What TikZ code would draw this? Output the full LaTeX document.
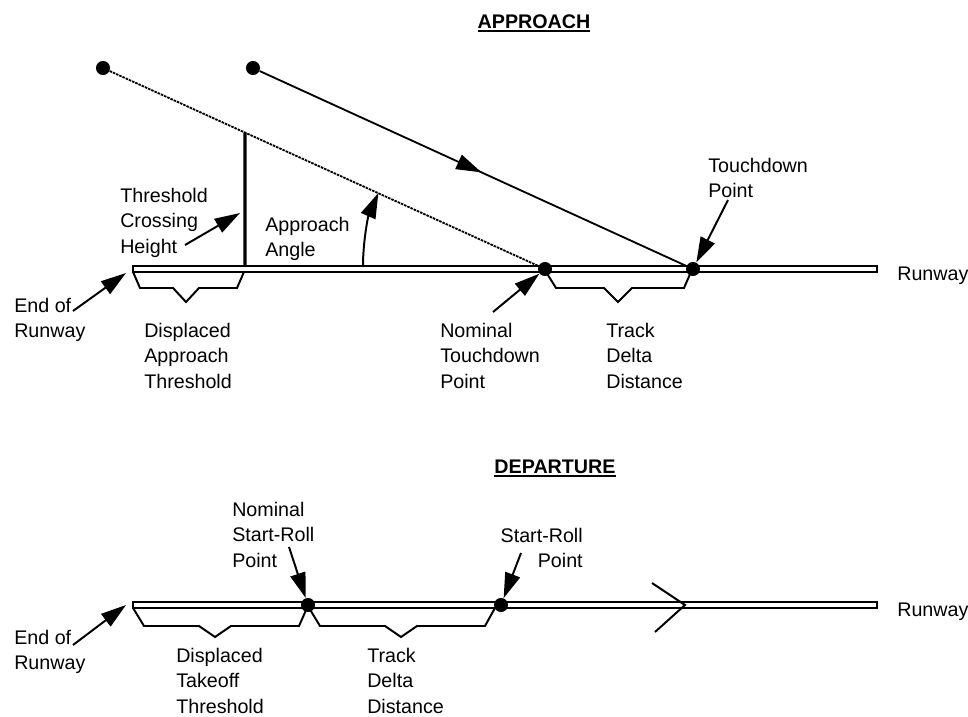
\documentclass[tikz,border=0pt]{standalone}
\usepackage{fontspec}
\setmainfont{Liberation Sans}
\usetikzlibrary{arrows.meta}
\usetikzlibrary{calc}
\usetikzlibrary{decorations.markings}

\begin{document}
\begin{tikzpicture}[x=0.025cm, y=-0.025cm,
    every node/.style={inner sep=0pt, font=\fontsize{14}{18}\selectfont},
    txt/.style={align=left, anchor=north west},
    ptdot/.style={circle, fill=black, inner sep=0pt, minimum size=10pt},
    runway/.style={line width=1.4pt, fill=white},
    pointer/.style={line width=1.4pt, -{Triangle[length=18pt, width=11pt]}},
    bracketline/.style={line width=1.4pt, line join=miter},
    glide/.style={line width=1.3pt},
    nominal glide/.style={line width=1.3pt, dash pattern=on 1.8pt off 0.7pt}]
        \newcommand{\figrwxstart}{133}
        \newcommand{\figrwxend}{877}
        \newcommand{\figrwhalf}{2.9}
        \newcommand{\figrwaycent}{269}
        \newcommand{\figrwdycent}{605}
        \newcommand{\figrwaybot}{\figrwaycent+\figrwhalf}
        \newcommand{\figrwdybot}{\figrwdycent+\figrwhalf}
        \newcommand{\figheading}[1]{\setbox0=\hbox{\bfseries #1}\rlap{\rule[-3pt]{\wd0}{1.3pt}}\box0}
        \useasboundingbox (0,0) rectangle (968,717);
        % approach
        \node[anchor=base] (apphead) at (534,28) {\figheading{APPROACH}};
        \draw[runway] (\figrwxstart,\figrwaycent-\figrwhalf) rectangle (\figrwxend,\figrwaycent+\figrwhalf);
        \node[ptdot] (glideastart) at (103,68) {};
        \node[ptdot] (glidebstart) at (253,68) {};
        \node[ptdot] (nomtd) at (545,\figrwaycent) {};
        \node[ptdot] (td) at (693,\figrwaycent) {};
        \draw[nominal glide] (glideastart) -- (nomtd);
        \draw[glide, postaction={decorate}, decoration={markings, mark=at position 0.52 with {\arrow{Triangle[length=18pt, width=11pt]}}}] (glidebstart) -- (td);
        \coordinate (thtop) at ($(glideastart.center)!0.3213!(nomtd.center)$);
        \coordinate (thbase) at (245,\figrwaycent-\figrwhalf);
        \draw[line width=2.3pt] (thtop) -- (thbase);
        \coordinate (anglefoot) at (363,\figrwaycent-\figrwhalf);
        \draw[pointer] (anglefoot) arc[start angle=180, end angle=203.7, radius=182];
        \node[txt] (thcross) at (120,188) {Threshold\\Crossing\\Height};
        \node[txt] (appangle) at (265,217) {Approach\\Angle};
        \node[txt] (endrwa) at (14,298) {End of\\Runway};
        \node[txt] (dispappr) at (144,323) {Displaced\\Approach\\Threshold};
        \node[txt] (nomtdlabel) at (440,323) {Nominal\\Touchdown\\Point};
        \node[txt] (trackalabel) at (606,323) {Track\\Delta\\Distance};
        \node[txt] (tdlabel) at (708,158) {Touchdown\\Point};
        \node[anchor=base west] (rwalabel) at (897,280) {Runway};
        \coordinate (thcrosstail) at (185,245);
        \coordinate (thcrosstip) at (240,213);
        \coordinate (endrwatail) at (73,311);
        \coordinate (endrwatip) at (126,273);
        \coordinate (nomtdtail) at (493,312);
        \coordinate (tdtail) at (728,200);
        \draw[pointer] (thcrosstail) -- (thcrosstip);
        \draw[pointer] (endrwatail) -- (endrwatip);
        \draw[pointer] (nomtdtail) -- (nomtd);
        \draw[pointer] (tdtail) -- (td);
        \draw[bracketline] (133,\figrwaybot) -- (140,288) -- (173,288) -- (186,302) -- (199,288) -- (237,288) -- (244,\figrwaybot);
        \draw[bracketline] (546,\figrwaybot) -- (556,288) -- (604,288) -- (618,302) -- (632,288) -- (684,288) -- (691,\figrwaybot);
        % departure
        \node[anchor=base] (dephead) at (555,473) {\figheading{DEPARTURE}};
        \draw[runway] (\figrwxstart,\figrwdycent-\figrwhalf) rectangle (\figrwxend,\figrwdycent+\figrwhalf);
        \node[ptdot] (nomsr) at (308,\figrwdycent) {};
        \node[ptdot] (sr) at (501,\figrwdycent) {};
        \draw[bracketline] (652,583) -- (685,\figrwdycent) -- (655,632);
        \node[txt] (nomsrlabel) at (232,502) {Nominal\\Start-Roll\\Point};
        \node[txt, align=right, anchor=north east] (srlabel) at (583,528) {Start-Roll\\Point};
        \node[txt] (endrwd) at (14,630) {End of\\Runway};
        \node[txt] (disptolabel) at (176,648) {Displaced\\Takeoff\\Threshold};
        \node[txt] (trackdlabel) at (367,648) {Track\\Delta\\Distance};
        \node[anchor=base west] (rwdlabel) at (897,616) {Runway};
        \coordinate (nomsrtail) at (289,547);
        \coordinate (srtail) at (521,553);
        \coordinate (endrwdtail) at (73,645);
        \coordinate (endrwdtip) at (126,605);
        \draw[pointer] (nomsrtail) -- (nomsr);
        \draw[pointer] (srtail) -- (sr);
        \draw[pointer] (endrwdtail) -- (endrwdtip);
        \draw[bracketline] (133,\figrwdybot) -- (144,626) -- (199,626) -- (215,637) -- (231,626) -- (299,626) -- (307,\figrwdybot);
        \draw[bracketline] (309,\figrwdybot) -- (320,626) -- (385,626) -- (401,637) -- (417,626) -- (485,626) -- (495,\figrwdybot);
        \end{tikzpicture}
\end{document}
